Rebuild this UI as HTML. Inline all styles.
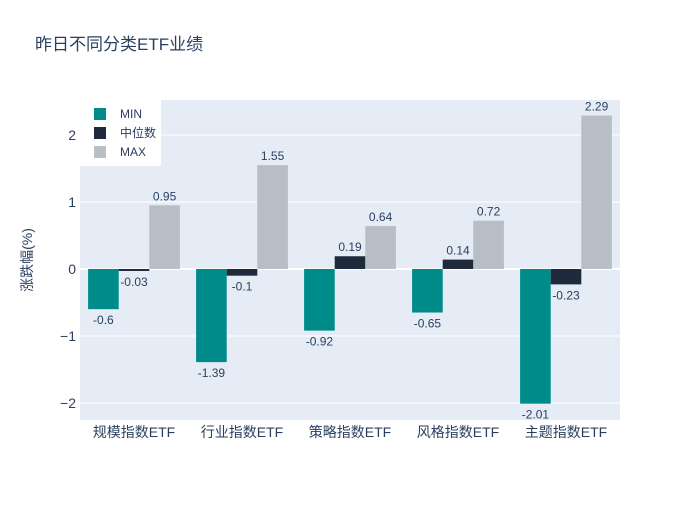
<!DOCTYPE html>
<html><head><meta charset="utf-8"><style>
body{margin:0;background:#fff;font-family:"Liberation Sans","Noto Sans CJK SC",sans-serif;}
text{font-family:"Liberation Sans","Noto Sans CJK SC",sans-serif;}
</style></head><body>
<svg id="chart" width="700" height="500">
<text x="35" y="50" font-size="17" fill="#2a3f5f">昨日不同分类ETF业绩</text>
<rect x="80" y="100" width="540" height="320" fill="#e5ecf6"/>
<g id="grid"></g><g id="bars"></g><g id="labels"></g>
<text transform="translate(32,260) rotate(-90)" text-anchor="middle" font-size="14" fill="#2a3f5f">涨跌幅(%)</text>
<g>
<rect x="80" y="100" width="81" height="66" fill="#fff"/>
</g>
</svg>
<script>
const categories=["规模指数ETF","行业指数ETF","策略指数ETF","风格指数ETF","主题指数ETF"];
const seriesNames=["MIN","中位数","MAX"];
const minVals=[-0.6,-1.39,-0.92,-0.65,-2.01];
const medVals=[-0.03,-0.1,0.19,0.14,-0.23];
const maxVals=[0.95,1.55,0.64,0.72,2.29];
const yTicks=[-2,-1,0,1,2];
const colors=["#008b8b","#1f2a3c","#b8bec6"];
const NS="http://www.w3.org/2000/svg";
const x0=80,pw=540,yTop=100,yBot=420,yMax=2.522,yMin=-2.254;
function y(v){return yTop+(yMax-v)/(yMax-yMin)*(yBot-yTop);}
const band=pw/categories.length,gw=band*0.85,bw=gw/3;
function mk(t,a,p){const e=document.createElementNS(NS,t);for(const k in a)e.setAttribute(k,a[k]);(p||document.getElementById('chart')).appendChild(e);return e;}
const grid=document.getElementById('grid'),bars=document.getElementById('bars'),labels=document.getElementById('labels');
yTicks.forEach(t=>{
 const l=mk('line',{x1:x0,x2:x0+pw,y1:y(t),y2:y(t),stroke:'#fff','stroke-width':t===0?2:1},grid);
 
 
 const tx=mk('text',{x:x0-4,y:y(t)+5,'text-anchor':'end','font-size':14,fill:'#2a3f5f'},grid);
 tx.textContent=t<0?'−'+Math.abs(t):t;
 
 
});
const series=[minVals,medVals,maxVals];
categories.forEach((c,i)=>{
 const cx=x0+band*i+band/2;
 const tx=mk('text',{x:cx,y:437,'text-anchor':'middle','font-size':14,fill:'#2a3f5f'});
 tx.textContent=c;
 
 
 series.forEach((s,j)=>{
  const v=s[i],bx=cx-gw/2+bw*j;
  const r=mk('rect',{x:bx,y:Math.min(y(v),y(0)),width:bw,height:Math.abs(y(v)-y(0)),fill:colors[j]},bars);
  
  
  const lt=mk('text',{x:bx+bw/2,y:v>=0?y(v)-5:y(v)+15,'text-anchor':'middle','font-size':12,fill:'#2a3f5f'},labels);
  lt.textContent=v;
  
  
 });
});
seriesNames.forEach((n,j)=>{
 const yy=114+j*19;
 const r=mk('rect',{x:94,y:yy-6,width:12,height:12,fill:colors[j]});
 
 
 const t=mk('text',{x:120,y:yy+4,'font-size':12,fill:'#2a3f5f'});
 t.textContent=n;
 
 
});
</script>
</body></html>
